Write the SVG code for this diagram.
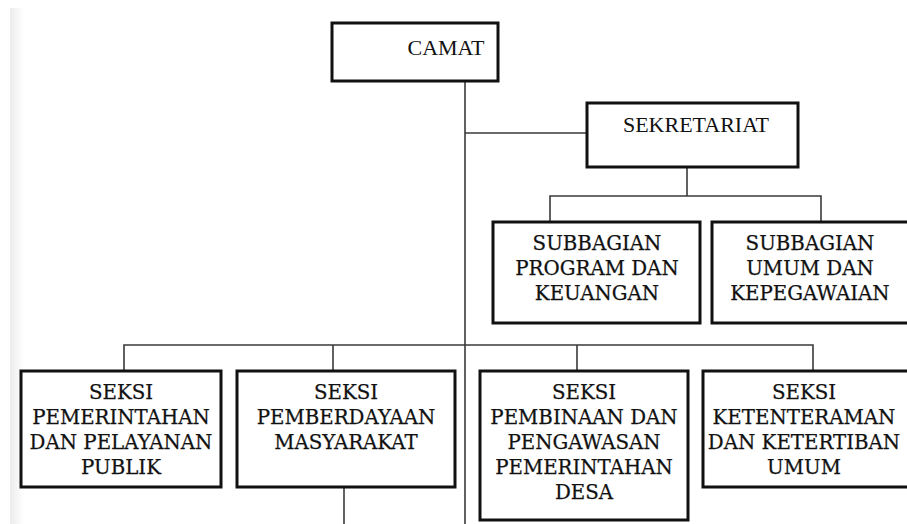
<svg xmlns="http://www.w3.org/2000/svg" width="907" height="524" viewBox="0 0 907 524">
<defs>
<linearGradient id="edge" x1="0" y1="0" x2="1" y2="0">
<stop offset="0" stop-color="#ececec"/>
<stop offset="1" stop-color="#ffffff"/>
</linearGradient>
</defs>
<style>
.box{fill:#fff;stroke:#111;stroke-width:3}
.con{fill:none;stroke:#3a3a3a;stroke-width:1.6}
.t1{font-family:"Liberation Serif","Times New Roman",serif;font-size:22px;fill:#111;text-anchor:middle}
.t2{font-family:"DejaVu Serif",serif;font-size:19.8px;fill:#111;stroke:#111;stroke-width:0.25;text-anchor:middle}
</style>
<rect x="0" y="0" width="907" height="524" fill="#fff"/>
<rect x="10" y="8" width="14" height="516" fill="url(#edge)"/>
<g id="connectors">
<path class="con" d="M465 81V524"/>
<path class="con" d="M465 133H587"/>
<path class="con" d="M687 167V196M550 222V196H821V222"/>
<path class="con" d="M124 371V345H813V371M333 345V371M577 345V371"/>
<path class="con" d="M344 487V524"/>
</g>
<g id="camat">
<rect class="box" x="332" y="23" width="166" height="58"/>
<text class="t1" x="446" y="55">CAMAT</text>
</g>
<g id="sekretariat">
<rect class="box" x="587" y="103" width="211" height="64"/>
<text class="t1" x="696" y="132">SEKRETARIAT</text>
</g>
<g id="subbagian-program">
<rect class="box" x="493" y="222" width="207" height="101"/>
<text class="t2" x="597" y="250">SUBBAGIAN</text>
<text class="t2" x="597" y="275">PROGRAM DAN</text>
<text class="t2" x="597" y="300">KEUANGAN</text>
</g>
<g id="subbagian-umum">
<rect class="box" x="712" y="222" width="200" height="101"/>
<text class="t2" x="810" y="250">SUBBAGIAN</text>
<text class="t2" x="810" y="275">UMUM DAN</text>
<text class="t2" x="810" y="300">KEPEGAWAIAN</text>
</g>
<g id="seksi-pemerintahan">
<rect class="box" x="21" y="371" width="200" height="116"/>
<text class="t2" x="121" y="399">SEKSI</text>
<text class="t2" x="121" y="424">PEMERINTAHAN</text>
<text class="t2" x="121" y="449">DAN PELAYANAN</text>
<text class="t2" x="121" y="474">PUBLIK</text>
</g>
<g id="seksi-pemberdayaan">
<rect class="box" x="237" y="371" width="218" height="116"/>
<text class="t2" x="346" y="399">SEKSI</text>
<text class="t2" x="346" y="424">PEMBERDAYAAN</text>
<text class="t2" x="346" y="449">MASYARAKAT</text>
</g>
<g id="seksi-pembinaan">
<rect class="box" x="480" y="371" width="208" height="149"/>
<text class="t2" x="584" y="399">SEKSI</text>
<text class="t2" x="584" y="424">PEMBINAAN DAN</text>
<text class="t2" x="584" y="449">PENGAWASAN</text>
<text class="t2" x="584" y="474">PEMERINTAHAN</text>
<text class="t2" x="584" y="499">DESA</text>
</g>
<g id="seksi-ketenteraman">
<rect class="box" x="703" y="371" width="210" height="116"/>
<text class="t2" x="804" y="399">SEKSI</text>
<text class="t2" x="804" y="424">KETENTERAMAN</text>
<text class="t2" x="804" y="449">DAN KETERTIBAN</text>
<text class="t2" x="804" y="474">UMUM</text>
</g>
</svg>
